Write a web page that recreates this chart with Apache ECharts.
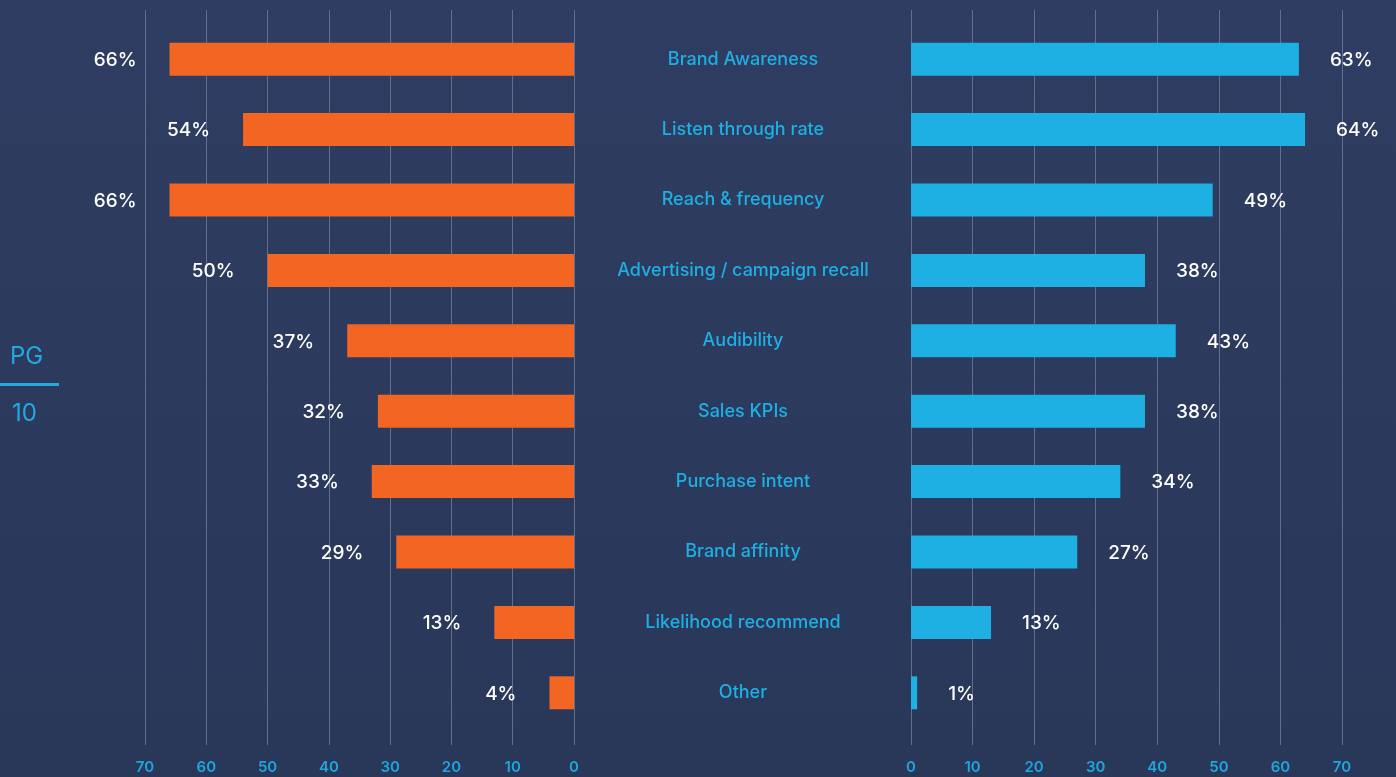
<!DOCTYPE html>
<html>
<head>
<meta charset="utf-8">
<script src="https://cdn.jsdelivr.net/npm/echarts@6/dist/echarts.min.js"></script>
<style>
  html, body { margin: 0; padding: 0; background: #2c3a5d; }
  #chart { width: 1396px; height: 777px; }
</style>
</head>
<body>
<div id="chart"></div>
<script>
// categories top -> bottom
const categories = [
  'Brand Awareness', 'Listen through rate', 'Reach & frequency',
  'Advertising / campaign recall', 'Audibility', 'Sales KPIs',
  'Purchase intent', 'Brand affinity', 'Likelihood recommend', 'Other'
]
const leftValues  = [66, 54, 66, 50, 37, 32, 33, 29, 13, 4]
const rightValues = [63, 64, 49, 38, 43, 38, 34, 27, 13, 1]
const axisTicks = [0, 10, 20, 30, 40, 50, 60, 70]

const ORANGE = '#f26522'
const BLUE = '#1eafe3'
const LINE = '#636e8d'
const FONT = 'Inter'

const chart = echarts.init(document.getElementById('chart'))

const hiddenValueAxis = (grid, inverse) => ({
  type: 'value', gridIndex: grid, min: 0, max: 70, interval: 10, inverse,
  axisLine: { show: false }, axisTick: { show: false },
  axisLabel: { show: false }, splitLine: { show: false }
})

const lineAxis = (grid, inverse) => ({
  type: 'value', gridIndex: grid, min: axisTicks[0], max: axisTicks[axisTicks.length - 1],
  interval: 10, inverse,
  axisLine: { show: false }, axisTick: { show: false },
  axisLabel: { color: '#1ea6dd', fontFamily: FONT, fontSize: 15, fontWeight: 600, margin: 15 },
  splitLine: { show: true, lineStyle: { color: LINE, width: 1 } }
})

const catAxis = (grid, opts) => Object.assign({
  type: 'category', gridIndex: grid, data: categories, inverse: true,
  axisLine: { show: false }, axisTick: { show: false }, axisLabel: { show: false }
}, opts)

const valueLabel = (position, distance) => ({
  show: true, position, distance, formatter: '{c}%',
  color: '#ffffff', fontFamily: FONT, fontSize: 19, fontWeight: 500,
  offset: [0, 1]
})

chart.setOption({
  backgroundColor: new echarts.graphic.LinearGradient(0, 0, 0, 1, [
    { offset: 0, color: '#2e3d61' },
    { offset: 1, color: '#293759' }
  ]),
  textStyle: { fontFamily: FONT },
  grid: [
    { left: 145, right: 822, top: 24, bottom: 49 },   // left bars
    { left: 911, right: 54, top: 24, bottom: 49 },    // right bars
    { left: 145, right: 822, top: 10, bottom: 32 },   // left grid lines
    { left: 911, right: 54, top: 10, bottom: 32 }     // right grid lines
  ],
  xAxis: [
    hiddenValueAxis(0, true),
    hiddenValueAxis(1, false),
    lineAxis(2, true),
    lineAxis(3, false)
  ],
  yAxis: [
    catAxis(0, {
      position: 'right',
      axisLabel: {
        show: true, align: 'center', margin: 169,
        color: BLUE, fontFamily: FONT, fontSize: 18, fontWeight: 500,
        padding: [2, 0, 0, 0]
      }
    }),
    catAxis(1),
    { type: 'value', gridIndex: 2, show: false },
    { type: 'value', gridIndex: 3, show: false }
  ],
  series: [
    {
      type: 'bar', xAxisIndex: 0, yAxisIndex: 0, data: leftValues, barWidth: 33,
      itemStyle: { color: ORANGE },
      label: valueLabel('left', 33)
    },
    {
      type: 'bar', xAxisIndex: 1, yAxisIndex: 1, data: rightValues, barWidth: 33,
      itemStyle: { color: BLUE },
      label: valueLabel('right', 31)
    }
  ],
  graphic: [
    {
      type: 'text', left: 10, top: 345,
      style: { text: 'PG', fill: '#22a9e1', font: '400 24px Inter' }
    },
    {
      type: 'rect', left: 0, top: 383,
      shape: { width: 59, height: 3 },
      style: { fill: '#22a9e1' }
    },
    {
      type: 'text', left: 12, top: 402,
      style: { text: '10', fill: '#22a9e1', font: '400 24px Inter' }
    }
  ]
})

window.addEventListener('resize', () => chart.resize())
</script>
</body>
</html>
